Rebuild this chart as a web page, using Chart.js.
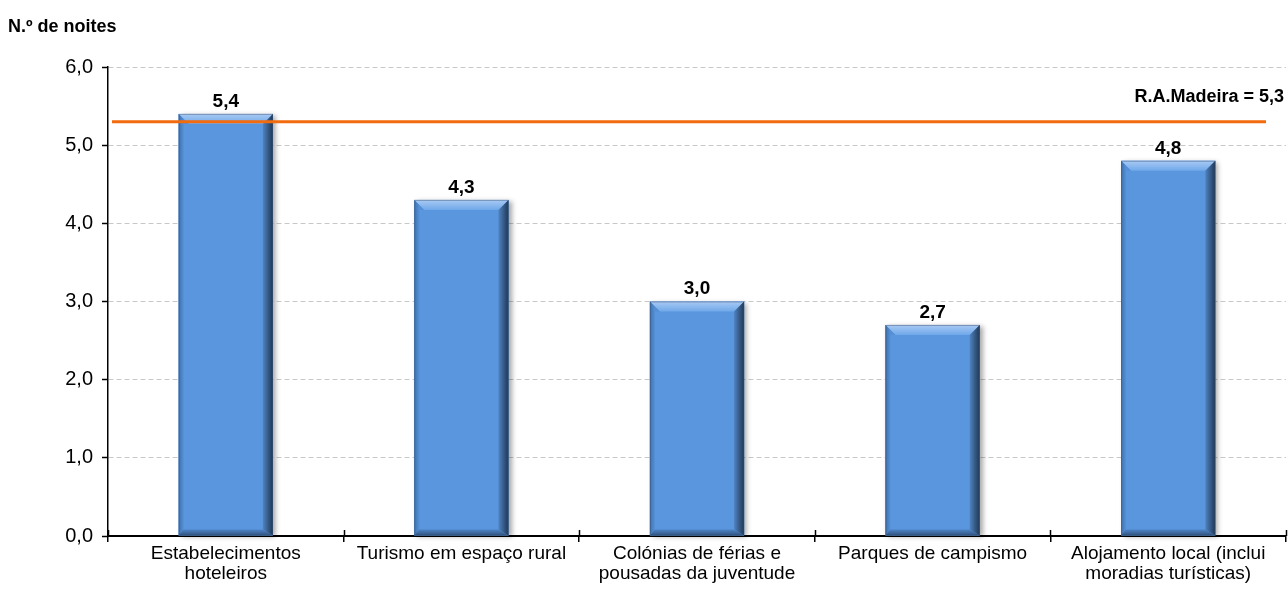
<!DOCTYPE html>
<html>
<head>
<meta charset="utf-8">
<script src="https://cdn.jsdelivr.net/npm/chart.js@4.4.0/dist/chart.umd.min.js"></script>
<style>
  html, body { margin: 0; padding: 0; background: #fff; }
  #wrap { position: relative; width: 1288px; height: 593px; }
</style>
</head>
<body>
<div id="wrap"><canvas id="grafico"></canvas></div>
<script>
// --- Dados ---
const categorias = [
    ['Estabelecimentos', 'hoteleiros'],
    'Turismo em espaço rural',
    ['Colónias de férias e', 'pousadas da juventude'],
    'Parques de campismo',
    ['Alojamento local (inclui', 'moradias turísticas)']
];
const noites = [5.4, 4.3, 3.0, 2.7, 4.8];
const mediaRegiao = 5.3;
const rotuloMedia = 'R.A.Madeira = 5,3';
const eixoY = { min: 0, max: 6, passo: 1 };
const tituloEixo = 'N.º de noites';

const FONTE = '"Liberation Sans", Arial, sans-serif';
const azul = '#5A96DD';
const fmt = v => v.toFixed(1).replace('.', ',');

// sombra por trás das barras
const sombraBarras = {
    id: 'sombraBarras',
    beforeDatasetsDraw(chart) {
        const ctx = chart.ctx;
        ctx.save();
        ctx.shadowColor = 'rgba(0,0,0,0.35)';
        ctx.shadowBlur = 5;
        ctx.shadowOffsetX = 3;
        ctx.shadowOffsetY = 1;
        ctx.fillStyle = azul;
        chart.getDatasetMeta(0).data.forEach(el => {
            const { x, y, base, width } = el.getProps(['x', 'y', 'base', 'width'], true);
            ctx.fillRect(x - width / 2, y, width, base - y);
        });
        ctx.restore();
    }
};

// relevo das barras, linha da média e rótulos
const relevo = {
    id: 'relevo',
    afterDatasetsDraw(chart) {
        const ctx = chart.ctx;
        const area = chart.chartArea;
        const yScale = chart.scales.y;
        ctx.save();
        chart.getDatasetMeta(0).data.forEach(el => {
            const { x, y, base, width } = el.getProps(['x', 'y', 'base', 'width'], true);
            const l = x - width / 2, r = x + width / 2, t = y, b = base;
            const bv = 10;

            let g = ctx.createLinearGradient(0, t, 0, t + bv);
            g.addColorStop(0, '#A9CAF3');
            g.addColorStop(1, '#70A8EA');
            ctx.fillStyle = g;
            ctx.beginPath();
            ctx.moveTo(l, t); ctx.lineTo(r, t); ctx.lineTo(r - bv, t + bv); ctx.lineTo(l + bv, t + bv);
            ctx.closePath(); ctx.fill();

            g = ctx.createLinearGradient(l, 0, l + 5, 0);
            g.addColorStop(0, '#3F72B0');
            g.addColorStop(1, '#5590D6');
            ctx.fillStyle = g;
            ctx.beginPath();
            ctx.moveTo(l, t); ctx.lineTo(l + bv, t + bv); ctx.lineTo(l + 5, t + bv); ctx.lineTo(l + 5, b - 5); ctx.lineTo(l, b);
            ctx.closePath(); ctx.fill();

            g = ctx.createLinearGradient(0, b - 6, 0, b);
            g.addColorStop(0, '#4D84C6');
            g.addColorStop(1, '#30547F');
            ctx.fillStyle = g;
            ctx.beginPath();
            ctx.moveTo(l, b); ctx.lineTo(r, b); ctx.lineTo(r - bv, b - 6); ctx.lineTo(l + 5, b - 6);
            ctx.closePath(); ctx.fill();

            g = ctx.createLinearGradient(r - bv, 0, r, 0);
            g.addColorStop(0, '#4F82C0');
            g.addColorStop(1, '#1F3754');
            ctx.fillStyle = g;
            ctx.beginPath();
            ctx.moveTo(r, t); ctx.lineTo(r, b); ctx.lineTo(r - bv, b - 6); ctx.lineTo(r - bv, t + bv);
            ctx.closePath(); ctx.fill();

            ctx.strokeStyle = 'rgba(60,80,110,0.45)';
            ctx.lineWidth = 1;
            ctx.strokeRect(l + 0.5, t + 0.5, width - 1, b - t - 1);
        });

        // linha da média regional
        const ym = yScale.getPixelForValue(mediaRegiao);
        ctx.strokeStyle = '#F26B0F';
        ctx.lineWidth = 3;
        ctx.beginPath();
        ctx.moveTo(area.left + 4, ym);
        ctx.lineTo(area.right - 20, ym);
        ctx.stroke();

        // valores sobre as barras
        ctx.fillStyle = '#000';
        ctx.font = 'bold 19px ' + FONTE;
        ctx.textAlign = 'center';
        ctx.textBaseline = 'bottom';
        chart.getDatasetMeta(0).data.forEach((el, i) => {
            ctx.fillText(fmt(noites[i]), el.x, el.y - 3);
        });

        ctx.font = 'bold 18px ' + FONTE;
        ctx.textAlign = 'right';
        ctx.textBaseline = 'middle';
        ctx.fillText(rotuloMedia, area.right - 2, ym - 25);

        ctx.font = 'bold 18px ' + FONTE;
        ctx.textAlign = 'left';
        ctx.fillText(tituloEixo, 8, 27);

        // marcas do eixo x a atravessar o eixo
        const xs = chart.scales.x;
        ctx.strokeStyle = '#000';
        ctx.lineWidth = 1.5;
        for (let i = 0; i <= categorias.length; i++) {
            const px = Math.round(xs.getPixelForValue(i - 0.5)) + 0.5;
            ctx.beginPath();
            ctx.moveTo(px, area.bottom - 6);
            ctx.lineTo(px, area.bottom);
            ctx.stroke();
        }
        ctx.restore();
    }
};

new Chart(document.getElementById('grafico'), {
    type: 'bar',
    data: {
        labels: categorias,
        datasets: [{
            data: noites,
            backgroundColor: azul,
            borderWidth: 0,
            barPercentage: 0.4,
            categoryPercentage: 1.0
        }]
    },
    options: {
        responsive: true,
        maintainAspectRatio: false,
        animation: false,
        events: [],
        layout: { padding: { top: 67, right: 2, left: 0, bottom: 0 } },
        plugins: { legend: { display: false }, tooltip: { enabled: false } },
        scales: {
            x: {
                offset: true,
                grid: { display: true, drawOnChartArea: false, offset: true, tickLength: 6, color: '#000', lineWidth: 1.5 },
                border: { display: true, color: '#000', width: 2 },
                ticks: { color: '#000', font: { family: FONTE, size: 19, lineHeight: 1.05 }, padding: 2, maxRotation: 0, autoSkip: false },
                afterFit(s) { s.height = 57; }
            },
            y: {
                min: eixoY.min,
                max: eixoY.max,
                ticks: {
                    stepSize: eixoY.passo,
                    color: '#000',
                    font: { family: FONTE, size: 20 },
                    padding: 9,
                    callback: v => fmt(v)
                },
                grid: {
                    color: '#C8C8C8',
                    tickLength: 6,
                    tickColor: '#000',
                    tickBorderDash: [],
                    tickWidth: 1.5
                },
                border: { display: true, color: '#000', width: 1.5, dash: [5, 3] },
                afterFit(s) { s.width = 108; }
            }
        }
    },
    plugins: [sombraBarras, relevo]
});
</script>
</body>
</html>
